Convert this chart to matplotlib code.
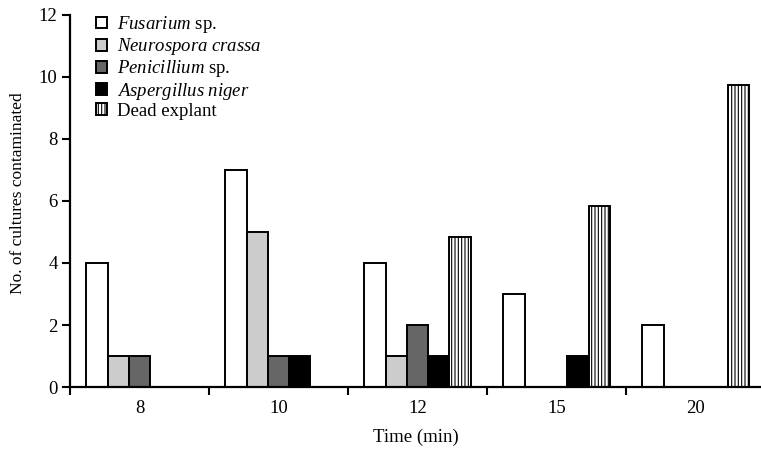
import matplotlib.pyplot as plt
import numpy as np

plt.rcParams['font.family'] = 'serif'
plt.rcParams['font.serif'] = ['Liberation Serif', 'DejaVu Serif']
plt.rcParams['mathtext.fontset'] = 'custom'
plt.rcParams['mathtext.rm'] = 'Liberation Serif'
plt.rcParams['mathtext.it'] = 'Liberation Serif:italic'
plt.rcParams['hatch.linewidth'] = 0.8

# data
times = ['8', '10', '12', '15', '20']
fusarium = [4, 7, 4, 3, 2]
neurospora = [1, 5, 1, 0, 0]
penicillium = [1, 1, 2, 0, 0]
aspergillus = [0, 1, 1, 1, 0]
dead_explant = [0, 0, 4.85, 5.85, 9.75]

series = [fusarium, neurospora, penicillium, aspergillus, dead_explant]
labels = [r'$\it{Fusarium}$ sp.', r'$\it{Neurospora\ crassa}$', r'$\it{Penicillium}$ sp.',
          r'$\it{Aspergillus\ niger}$', 'Dead explant']
colors = ['white', '#cccccc', '#666666', 'black', 'white']
hatches = [None, None, None, None, '|||||']

fig = plt.figure(figsize=(7.61, 4.49), dpi=100)
ax = fig.add_axes([0.092, 0.138, 0.908, 0.829])

index = np.arange(len(times))
bar_width = 0.153
for i, vals in enumerate(series):
    pos = index + (i - 2) * bar_width
    # zero values are not drawn
    v = np.array(vals, dtype=float)
    mask = v > 0
    ax.bar(pos[mask], v[mask], bar_width, color=colors[i], edgecolor='black',
           linewidth=1.4, hatch=hatches[i], label=labels[i])

ax.set_xlim(-0.5, 4.47)
ax.set_ylim(0, 12)
ax.set_yticks(np.arange(0, 13, 2))
ax.set_xticks(np.arange(-0.5, 4.5, 1))
ax.set_xticklabels([])
ax.set_xticks(index, minor=True)
ax.set_xticklabels(times, minor=True)
ax.tick_params(axis='x', which='minor', length=0, pad=9, labelsize=13.5)
ax.tick_params(axis='x', which='major', length=6, width=1.5, direction='out')
ax.tick_params(axis='y', length=6, width=1.5, direction='out', labelsize=13.5, pad=3)

for s in ['top', 'right']:
    ax.spines[s].set_visible(False)
for s in ['left', 'bottom']:
    ax.spines[s].set_linewidth(1.6)

ax.set_xlabel('Time (min)', fontsize=13.5, labelpad=9)
ax.set_ylabel('No. of cultures contaminated', fontsize=12.5)
ax.yaxis.set_label_coords(-0.064, 0.52)

leg = ax.legend(loc='upper left', bbox_to_anchor=(0.027, 1.022), frameon=False, fontsize=13.5,
                handlelength=0.6, handleheight=0.6, handletextpad=0.5, labelspacing=0.06,
                borderaxespad=0)

fig.savefig('out.png', dpi=100)
